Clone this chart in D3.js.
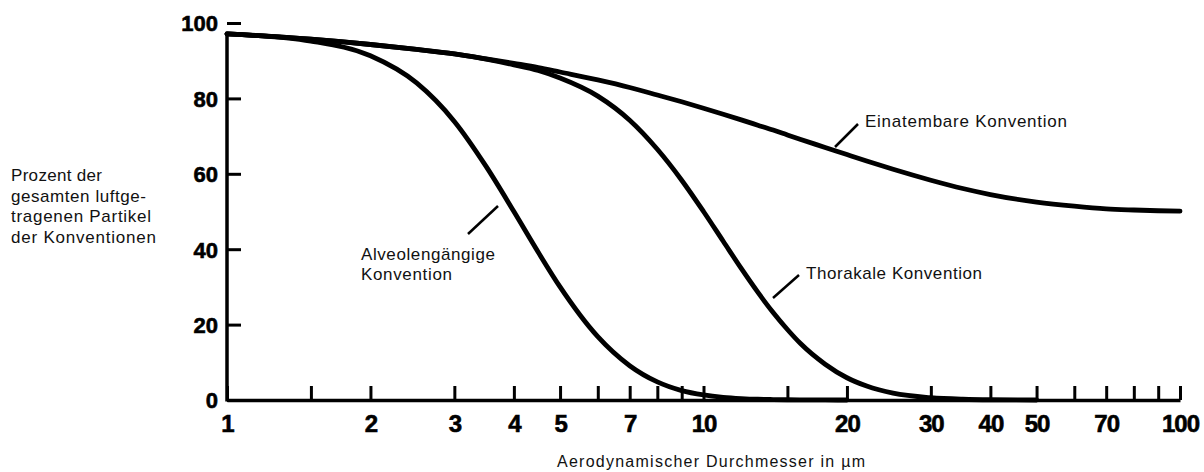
<!DOCTYPE html>
<html><head><meta charset="utf-8">
<script src="https://cdn.jsdelivr.net/npm/d3@7"></script>
<style>body{margin:0;background:#fff} svg{display:block}</style>
</head><body><svg id="c" width="1204" height="472"></svg>
<script>
const diameters = [1,1.5,2,2.5,3,3.5,4,4.5,5,6,7,8,9,10,11,12,13,14,15,16,18,20,22,25,30,35,40,50,60,70,80,90,100];
const einatembar = [97.1,95.7,94.3,93.0,91.8,90.5,89.3,88.2,87.0,84.9,82.9,80.9,79.1,77.4,75.8,74.3,72.9,71.6,70.3,69.1,67.0,65.1,63.4,61.2,58.3,56.1,54.5,52.5,51.4,50.7,50.4,50.2,50.1];
const thorakal = [97.1,95.7,94.3,93.0,91.8,90.4,88.9,87.4,85.4,80.6,74.2,66.5,58.3,50.0,42.1,34.9,28.6,23.2,18.7,14.9,9.5,5.9,3.7,1.8,0.6,0.2,0.06,0,0,0,0,0,0];
const alveolar = [97.1,95.2,91.3,84.1,73.9,61.9,50.0,39.2,30.0,16.8,9.1,4.8,2.5,1.35,0.72,0.39,0.2,0.12,0.07,0.04,0.01,0,0,0,0,0,0,0,0,0,0,0,0];
const xTicks = [1,1.5,2,3,4,5,6,7,8,9,10,15,20,30,40,50,60,70,80,90,100];
const xTickLabels = [1,2,3,4,5,7,10,20,30,40,50,70,100];
const yTicks = [0,20,40,60,80,100];
const yTitle = ["Prozent der","gesamten luftge-","tragenen Partikel","der Konventionen"];
const xTitle = "Aerodynamischer Durchmesser in \u00b5m";

const svg = d3.select("#c");
const FONT = "'Liberation Sans', Arial, Helvetica, sans-serif";
const x = d3.scaleLog().domain([1,100]).range([227,1180]);
const y = d3.scaleLinear().domain([0,100]).range([400,23]);

// x axis
const gx = svg.append("g").attr("transform","translate(0,400)")
  .call(d3.axisBottom(x).tickValues(xTicks)
    .tickFormat(d => xTickLabels.includes(d) ? String(d) : "")
    .tickSizeInner(-14).tickSizeOuter(0).tickPadding(15));
gx.select(".domain").attr("stroke","#000").attr("stroke-width",3.5);
gx.selectAll(".tick line").attr("stroke","#000").attr("stroke-width",3);
gx.selectAll(".tick text").attr("fill","#000").attr("font-family",FONT)
  .attr("font-weight","bold").attr("font-size",24).attr("letter-spacing",-1)
  .attr("stroke","#000").attr("stroke-width",0.6);

// y axis
const gy = svg.append("g").attr("transform","translate(227,0)")
  .call(d3.axisLeft(y).tickValues(yTicks).tickSizeInner(-14).tickSizeOuter(0).tickPadding(9));
gy.select(".domain").remove();
gy.selectAll(".tick line").attr("stroke","#000").attr("stroke-width",3);
gy.selectAll(".tick text").attr("fill","#000").attr("font-family",FONT)
  .attr("font-weight","bold").attr("font-size",22).attr("dy","0.36em")
  .attr("stroke","#000").attr("stroke-width",0.6);
svg.append("line").attr("x1",x(1)).attr("x2",x(1))
  .attr("y1",y(0)+1.5).attr("y2",y(einatembar[0]))
  .attr("stroke","#000").attr("stroke-width",3.5);

// curves
function series(vals){
  const out = [];
  for (let i=0;i<diameters.length;i++){
    out.push({d:diameters[i], v:vals[i]});
    if (vals[i]===0) break;
  }
  return out;
}
const line = d3.line().x(p=>x(p.d)).y(p=>y(p.v)).curve(d3.curveMonotoneX);
[einatembar, thorakal, alveolar].forEach(vals=>{
  svg.append("path").datum(series(vals)).attr("d",line)
    .attr("fill","none").attr("stroke","#000").attr("stroke-width",4.8)
    .attr("stroke-linecap","round").attr("stroke-linejoin","round");
});

// annotations
const labels = [
  {t:"Einatembare Konvention", x:865, y:127, w:202},
  {t:"Thorakale Konvention", x:806, y:279, w:176},
  {t:"Alveolengängige", x:361, y:260, w:134},
  {t:"Konvention", x:361, y:280, w:91}
];
labels.forEach(l=>{
  svg.append("text").attr("x",l.x).attr("y",l.y).text(l.t)
    .attr("font-family",FONT).attr("font-size",17).attr("fill","#111")
    .attr("textLength",l.w).attr("lengthAdjust","spacing");
});
const leaders = [[835,147,858,124],[773,298,799,275],[468,234,498,206]];
leaders.forEach(a=>{
  svg.append("line").attr("x1",a[0]).attr("y1",a[1]).attr("x2",a[2]).attr("y2",a[3])
    .attr("stroke","#000").attr("stroke-width",2.5);
});

// y title
const yW = [91,135,140,145];
yTitle.forEach((t,i)=>{
  svg.append("text").attr("x",11).attr("y",181+i*20.7).text(t)
    .attr("font-family",FONT).attr("font-size",17).attr("fill","#111")
    .attr("textLength",yW[i]).attr("lengthAdjust","spacing");
});
// x title
svg.append("text").attr("x",557).attr("y",467).text(xTitle)
  .attr("font-family",FONT).attr("font-size",16).attr("fill","#111")
  .attr("textLength",308).attr("lengthAdjust","spacing");
</script></body></html>
